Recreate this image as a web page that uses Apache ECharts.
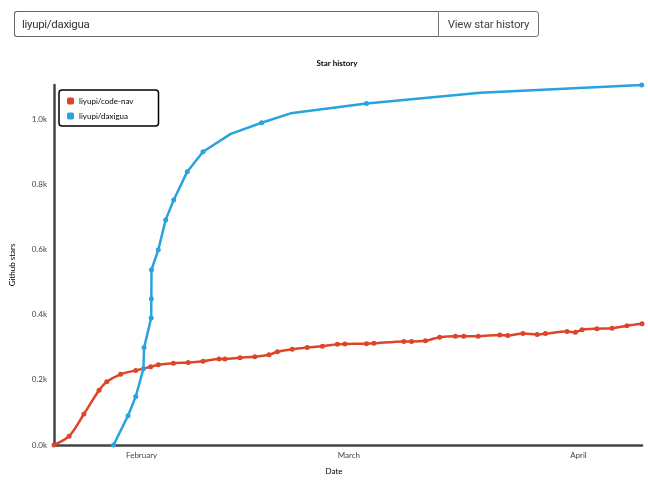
<!DOCTYPE html>
<html>
<head>
<meta charset="utf-8">
<script src="https://cdn.jsdelivr.net/npm/echarts@6/dist/echarts.min.js"></script>
<style>
  html, body { margin: 0; padding: 0; background: #fff; width: 648px; height: 480px; overflow: hidden; font-family: Roboto, "Noto Sans", sans-serif; }
  #chart { position: absolute; left: 0; top: 0; width: 648px; height: 480px; }
  #bar { position: absolute; left: 14px; top: 11px; height: 26px; display: flex; z-index: 2; }
  #repo { width: 416px; height: 24px; border: 1px solid #666; border-right: none; border-radius: 3px 0 0 3px; font-size: 11.5px; color: #333; line-height: 24px; padding-left: 7px; letter-spacing: -0.3px; }
  #btn { width: 99px; height: 24px; border: 1px solid #777; border-radius: 0 3px 3px 0; font-size: 11.5px; color: #444; line-height: 24px; text-align: center; letter-spacing: -0.2px; }
</style>
</head>
<body>
<div id="bar"><div id="repo">liyupi/daxigua</div><div id="btn">View star history</div></div>
<div id="chart"></div>
<script>
const seriesNames = ['liyupi/code-nav', 'liyupi/daxigua'];
const codeNavDates = ['2021-01-20 04:00','2021-01-22 05:00','2021-01-24 05:00','2021-01-26 06:00','2021-01-27 07:00','2021-01-29 04:00','2021-01-31 05:00','2021-02-02 05:30','2021-02-03 06:00','2021-02-05 07:00','2021-02-07 07:00','2021-02-09 07:00','2021-02-11 11:00','2021-02-12 06:00','2021-02-14 07:00','2021-02-16 07:00','2021-02-18 05:00','2021-02-19 08:00','2021-02-21 08:00','2021-02-23 09:00','2021-02-25 10:00','2021-02-27 10:00','2021-02-28 11:00','2021-03-03 09:00','2021-03-04 09:00','2021-03-08 10:00','2021-03-09 11:00','2021-03-11 08:00','2021-03-13 06:00','2021-03-15 09:00','2021-03-16 12:00','2021-03-18 11:00','2021-03-21 09:00','2021-03-22 11:00','2021-03-24 12:00','2021-03-26 10:00','2021-03-27 13:00','2021-03-30 11:00','2021-03-31 14:00','2021-04-01 12:00','2021-04-03 12:00','2021-04-05 13:00','2021-04-07 13:00','2021-04-09 14:00'];
const codeNavStars = [0,27,95,168,194,217,229,240,246,251,253,257,264,264,268,271,277,286,294,299,303,309,310,311,312,318,318,320,331,334,334,334,338,336,342,339,342,348,346,354,357,358,366,372];
const daxiguaDates = ['2021-01-28 05:00','2021-01-30 04:00','2021-01-31 05:00','2021-02-01 06:00','2021-02-01 08:00','2021-02-02 07:00','2021-02-02 07:30','2021-02-02 08:00','2021-02-03 06:00','2021-02-04 06:00','2021-02-05 08:00','2021-02-07 04:00','2021-02-09 07:00','2021-02-13 01:00','2021-02-17 05:00','2021-02-21 03:00','2021-03-03 09:00','2021-03-18 18:00','2021-04-09 13:00'];
const daxiguaStars = [0,90,149,234,299,390,449,538,599,691,752,839,900,955,989,1018,1048,1081,1105];
const daxiguaMarked = [1,1,1,1,1,1,1,1,1,1,1,1,1,0,1,0,1,0,1];
const monthTickDates = ['2021-02-01','2021-03-01','2021-04-01'];
const monthTickLabels = ['February','March','April'];
const yTickValues = [0,200,400,600,800,1000];

const ts = s => new Date(s.replace(' ', 'T')).getTime();
const monthTicks = monthTickDates.map(ts);
const colors = ['#dd4528', '#28a3dd'];
const font = 'Lato, "Noto Sans", sans-serif';

const chart = echarts.init(document.getElementById('chart'), null, { renderer: 'canvas' });
chart.setOption({
  animation: false,
  color: colors,
  title: {
    text: 'Star history', left: 332, top: 54, textAlign: 'center',
    textStyle: { fontSize: 8, fontWeight: 'bold', color: '#000', fontFamily: font }
  },
  legend: {
    orient: 'vertical', left: 59, top: 90,
    padding: [7, 25, 6, 8], itemGap: 7, itemWidth: 7, itemHeight: 7,
    icon: 'roundRect',
    backgroundColor: '#fff', borderColor: '#000', borderWidth: 1.5, borderRadius: 3,
    textStyle: { fontSize: 8, color: '#000', fontFamily: font },
    data: seriesNames
  },
  grid: { left: 53, right: 6, top: 85, bottom: 34, containLabel: false },
  xAxis: {
    type: 'value',
    min: ts(codeNavDates[0]),
    max: ts(codeNavDates[codeNavDates.length - 1]),
    name: 'Date', nameLocation: 'middle', nameGap: 22,
    nameTextStyle: { fontSize: 8, color: '#000', fontFamily: font, padding: [0, 28, 0, 0] },
    axisLine: { lineStyle: { color: '#444', width: 2.5 } },
    axisTick: { show: false },
    splitLine: { show: false },
    axisLabel: {
      customValues: monthTicks,
      fontSize: 8, color: '#444', fontFamily: font, margin: 6,
      formatter: v => { const i = monthTicks.indexOf(v); return i >= 0 ? monthTickLabels[i] : ''; }
    }
  },
  yAxis: {
    type: 'value', min: 0, max: Math.max(...daxiguaStars, ...codeNavStars), interval: 200,
    name: 'Github stars', nameLocation: 'middle', nameGap: 38, nameRotate: 90,
    nameTextStyle: { fontSize: 8, color: '#000', fontFamily: font },
    axisLine: { show: true, lineStyle: { color: '#444', width: 2.5 } },
    axisTick: { show: false },
    splitLine: { show: false },
    axisLabel: {
      customValues: yTickValues,
      fontSize: 8, color: '#444', fontFamily: font, margin: 7,
      formatter: v => (v / 1000).toFixed(1) + 'k'
    }
  },
  series: [
    {
      name: seriesNames[0], type: 'line', smooth: 0.3,
      symbol: 'circle', symbolSize: 5, lineStyle: { width: 2.5 },
      data: codeNavDates.map((d, i) => [ts(d), codeNavStars[i]])
    },
    {
      name: seriesNames[1], type: 'line', smooth: false,
      symbol: 'circle', symbolSize: 5, lineStyle: { width: 2.5 },
      data: daxiguaDates.map((d, i) => ({
        value: [ts(d), daxiguaStars[i]],
        symbolSize: daxiguaMarked[i] ? 5 : 0
      }))
    }
  ]
});
</script>
</body>
</html>
